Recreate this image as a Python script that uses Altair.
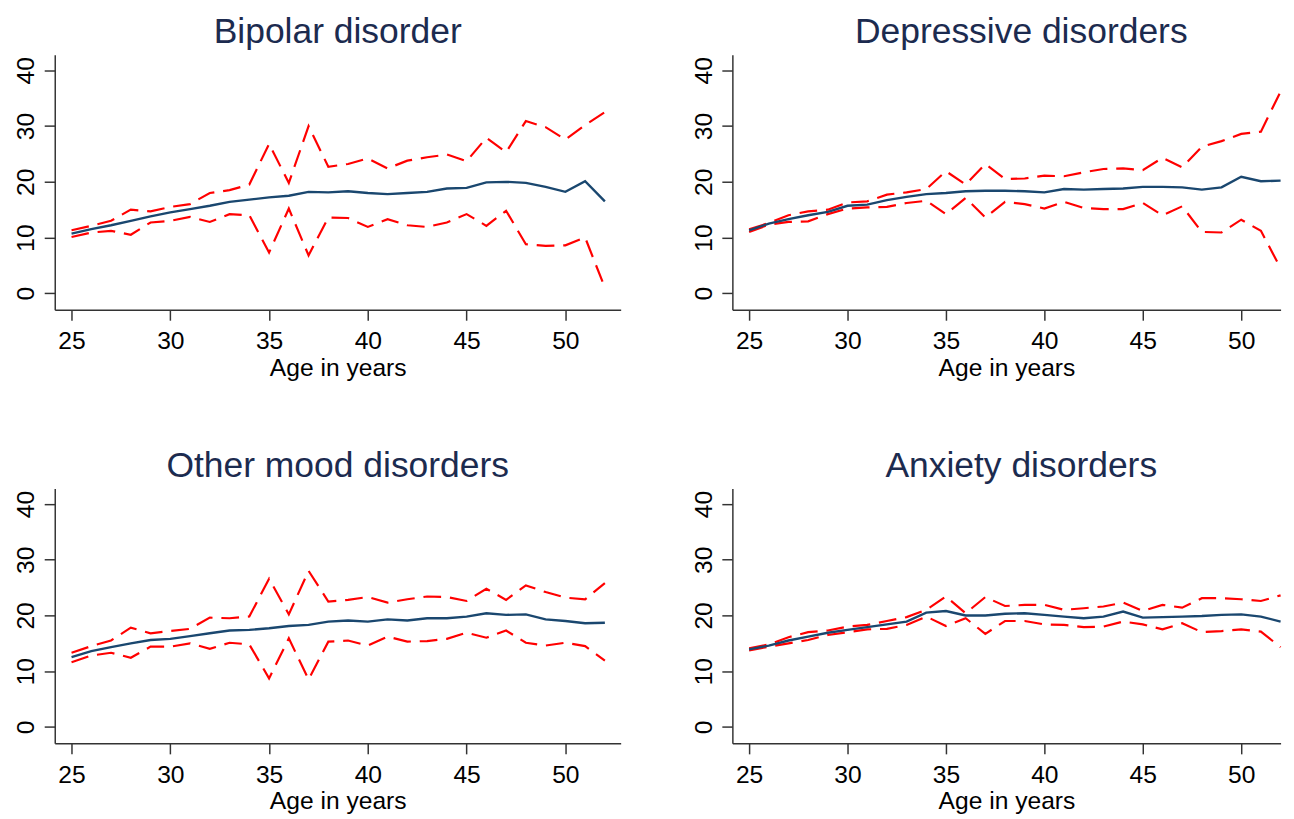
import altair as alt
import pandas as pd

# age axis (years)
ages = [25, 26, 27, 28, 29, 30, 31, 32, 33, 34, 35, 36, 37, 38,
        39, 40, 41, 42, 43, 44, 45, 46, 47, 48, 49, 50, 51, 52]

# Bipolar disorder
bip_mean = [10.7, 11.5, 12.2, 13.0, 13.8, 14.5, 15.1, 15.7, 16.4, 16.8, 17.2, 17.5, 18.2, 18.1,
            18.3, 18.0, 17.8, 18.0, 18.2, 18.8, 18.9, 19.9, 20.0, 19.8, 19.1, 18.2, 20.1, 16.5]
bip_upper = [11.3, 12.1, 13.0, 15.0, 14.7, 15.5, 16.0, 18.0, 18.5, 19.5, 26.8, 19.8, 30.0, 22.7,
             23.2, 24.2, 22.4, 23.8, 24.4, 24.9, 23.7, 27.9, 25.3, 30.9, 29.8, 27.6, 30.2, 32.5]
bip_lower = [10.1, 10.9, 11.2, 10.5, 12.7, 13.0, 13.7, 12.8, 14.2, 14.0, 7.3, 15.2, 6.8, 13.6,
             13.5, 11.9, 13.3, 12.2, 11.9, 12.7, 14.2, 12.1, 14.8, 8.8, 8.5, 8.6, 10.0, 1.0]

# Depressive disorders
dep_mean = [11.3, 12.5, 13.3, 14.0, 14.6, 15.7, 15.9, 16.7, 17.3, 17.8, 18.0, 18.3, 18.4, 18.4,
            18.3, 18.1, 18.7, 18.6, 18.7, 18.8, 19.1, 19.1, 19.0, 18.6, 19.0, 20.9, 20.1, 20.2]
dep_upper = [11.5, 12.6, 14.0, 14.7, 15.0, 16.3, 16.5, 17.7, 18.1, 18.7, 21.9, 19.5, 23.2, 20.5,
             20.6, 21.1, 21.0, 21.7, 22.3, 22.4, 22.1, 24.3, 22.6, 26.3, 27.3, 28.6, 29.0, 36.2]
dep_lower = [11.0, 12.3, 12.8, 12.9, 14.2, 15.2, 15.4, 15.5, 16.2, 16.6, 14.2, 17.1, 13.6, 16.4,
             16.0, 15.2, 16.4, 15.3, 15.1, 15.1, 16.2, 14.0, 15.6, 11.0, 10.9, 13.2, 11.2, 4.5]

# Other mood disorders
oth_mean = [12.5, 13.6, 14.3, 15.0, 15.6, 15.8, 16.3, 16.8, 17.3, 17.4, 17.7, 18.1, 18.3, 18.9,
            19.1, 18.9, 19.3, 19.1, 19.5, 19.5, 19.8, 20.4, 20.1, 20.2, 19.3, 19.0, 18.6, 18.7]
oth_upper = [13.3, 14.5, 15.5, 17.8, 16.8, 17.2, 17.6, 19.6, 19.5, 19.8, 26.6, 20.2, 28.0, 22.5,
             22.8, 23.3, 22.3, 22.9, 23.4, 23.3, 22.6, 24.8, 22.8, 25.4, 24.2, 23.2, 22.9, 25.8]
oth_lower = [11.6, 12.8, 13.3, 12.4, 14.4, 14.4, 15.0, 14.0, 15.1, 14.8, 8.7, 15.9, 8.5, 15.3,
             15.5, 14.6, 16.2, 15.3, 15.4, 15.8, 16.9, 16.0, 17.3, 15.1, 14.6, 15.1, 14.5, 11.9]

# Anxiety disorders
anx_mean = [13.9, 14.6, 15.5, 16.2, 16.9, 17.4, 17.9, 18.4, 18.9, 20.5, 20.8, 20.0, 20.0, 20.3,
            20.4, 20.1, 19.8, 19.5, 19.8, 20.7, 19.6, 19.7, 19.8, 19.9, 20.1, 20.2, 19.8, 18.9]
anx_upper = [14.1, 14.8, 16.1, 17.0, 17.3, 18.0, 18.3, 19.0, 19.7, 21.0, 23.4, 20.4, 23.3, 21.7,
             21.9, 21.9, 21.0, 21.3, 21.6, 22.3, 20.8, 21.9, 21.4, 23.1, 23.1, 22.9, 22.6, 23.6]
anx_lower = [13.7, 14.4, 15.0, 15.6, 16.5, 17.0, 17.5, 17.6, 18.3, 19.8, 18.1, 19.5, 16.7, 19.0,
             19.0, 18.4, 18.3, 17.9, 18.0, 18.9, 18.4, 17.5, 18.6, 17.0, 17.2, 17.5, 17.1, 14.3]

x_ticks = [25, 30, 35, 40, 45, 50]
y_ticks = [0, 10, 20, 30, 40]

FONT = "Liberation Sans"


def panel(title, mean, upper, lower, x_max, width, title_dx=0):
    n = len(ages)
    df = pd.DataFrame({
        "age": ages * 3,
        "series": ["mean"] * n + ["upper"] * n + ["lower"] * n,
        "value": mean + upper + lower,
    })
    x = alt.X("age:Q",
              scale=alt.Scale(domain=[24.15, x_max], nice=False, zero=False),
              axis=alt.Axis(values=x_ticks, title="Age in years", labelPadding=9,
                            titlePadding=2))
    y = alt.Y("value:Q",
              scale=alt.Scale(domain=[-2.95, 42.8], nice=False, zero=False),
              axis=alt.Axis(values=y_ticks, labelAngle=270, labelAlign="center",
                            labelBaseline="bottom", labelPadding=6),
              title=None)
    ci = alt.Chart(df).transform_filter(alt.datum.series != "mean").mark_line(
        color="#ff0000", strokeDash=[18, 9], strokeWidth=2.2
    ).encode(x=x, y=y, detail="series:N")
    mn = alt.Chart(df).transform_filter(alt.datum.series == "mean").mark_line(
        color="#1a476f", strokeWidth=2.4
    ).encode(x=x, y=y)
    return alt.layer(ci, mn).properties(
        width=width, height=259,
        title=alt.TitleParams(title, fontSize=36, font=FONT, color="#1c2b4f",
                              fontWeight="normal", anchor="middle", frame="group",
                              baseline="alphabetic", offset=-24, dx=title_dx),
    )


# right-hand panels run off the edge of the picture, so they are narrower
top = alt.hconcat(
    panel("Bipolar disorder", bip_mean, bip_upper, bip_lower, 52.8, 575),
    panel("Depressive disorders", dep_mean, dep_upper, dep_lower, 52.0, 557, 15),
    spacing=71.5,
)
bottom = alt.hconcat(
    panel("Other mood disorders", oth_mean, oth_upper, oth_lower, 52.8, 575),
    panel("Anxiety disorders", anx_mean, anx_upper, anx_lower, 52.0, 557, 15),
    spacing=71.5,
)

chart = alt.vconcat(top, bottom, spacing=68.6).properties(
    padding={"left": 5.5, "top": 0, "right": 0, "bottom": 0},
    background="white",
).configure_view(
    strokeWidth=0
).configure_axis(
    grid=False,
    domainColor="#333333",
    domainWidth=1.5,
    tickColor="#333333",
    tickWidth=1.5,
    tickSize=10.7,
    labelFont=FONT,
    labelFontSize=25,
    labelColor="#000000",
    titleFont=FONT,
    titleFontSize=25,
    titleFontWeight="normal",
    titleColor="#000000",
)

chart.save("out.html", embed_options={"renderer": "svg", "actions": False})
